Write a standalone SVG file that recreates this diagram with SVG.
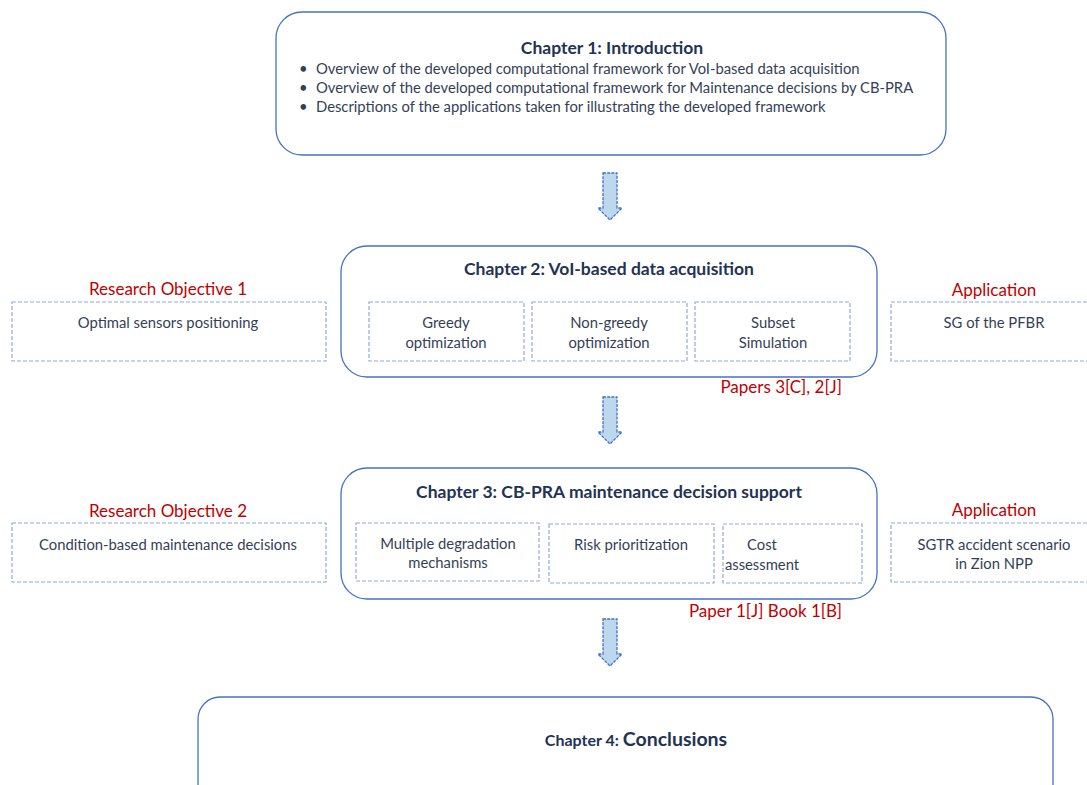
<svg xmlns="http://www.w3.org/2000/svg" width="1087" height="785" viewBox="0 0 1087 785">
<defs>
<style>
.chap{fill:#ffffff;stroke:#4472C4;stroke-width:1.3}
.sub{fill:#ffffff;stroke:#8FAADC;stroke-width:1.2;stroke-dasharray:4 2}
.arrow{fill:#BDD7EE;stroke:#4472C4;stroke-width:1.3;stroke-dasharray:3 1.2}
text{font-family:Lato,"Liberation Sans",sans-serif}
.title{font-size:17.5px;font-weight:bold;fill:#223354;text-anchor:middle}
.body{font-size:14.8px;fill:#333F58}
.c{text-anchor:middle}
.red{font-size:17px;fill:#C00000}
</style>
</defs>
<g id="connectors">
<path class="arrow" d="M603,173 H617 V208 H622 L610,220 L598,208 H603 Z"/>
<path class="arrow" d="M603,397 H617 V432 H622 L610,444 L598,432 H603 Z"/>
<path class="arrow" d="M603,619 H617 V654 H622 L610,666 L598,654 H603 Z"/>
</g>
<g id="chapter1">
<rect class="chap" x="276" y="12" width="670" height="143" rx="26"/>
<text class="title" x="612" y="54">Chapter 1: Introduction</text>
<text class="body" x="299" y="74">•</text>
<text class="body" x="316" y="74">Overview of the developed computational framework for VoI-based data acquisition</text>
<text class="body" x="299" y="93">•</text>
<text class="body" x="316" y="93">Overview of the developed computational framework for Maintenance decisions by CB-PRA</text>
<text class="body" x="299" y="112">•</text>
<text class="body" x="316" y="112">Descriptions of the applications taken for illustrating the developed framework</text>
</g>
<g id="chapter2">
<rect class="chap" x="341" y="246" width="536" height="131" rx="26"/>
<text class="title" x="609" y="275">Chapter 2: VoI-based data acquisition</text>
</g>
<g id="greedy">
<rect class="sub" x="369" y="302" width="155" height="59"/>
<text class="body c" x="446" y="328">Greedy</text>
<text class="body c" x="446" y="348">optimization</text>
</g>
<g id="nongreedy">
<rect class="sub" x="532" y="302" width="155" height="59"/>
<text class="body c" x="609" y="328">Non-greedy</text>
<text class="body c" x="609" y="348">optimization</text>
</g>
<g id="subset">
<rect class="sub" x="695" y="302" width="155" height="59"/>
<text class="body c" x="773" y="328">Subset</text>
<text class="body c" x="773" y="348">Simulation</text>
</g>
<g id="papers2">
<text class="red" x="842" y="393" text-anchor="end">Papers 3[C], 2[J]</text>
</g>
<g id="objective1">
<text class="red" x="168" y="295" text-anchor="middle">Research Objective 1</text>
<rect class="sub" x="12" y="302" width="314" height="59"/>
<text class="body c" x="168" y="328">Optimal sensors positioning</text>
</g>
<g id="application1">
<text class="red" x="994" y="296" text-anchor="middle">Application</text>
<rect class="sub" x="891" y="302" width="205" height="59"/>
<text class="body c" x="994" y="328">SG of the PFBR</text>
</g>
<g id="chapter3">
<rect class="chap" x="341" y="468" width="536" height="131" rx="26"/>
<text class="title" x="609" y="498">Chapter 3: CB-PRA maintenance decision support</text>
</g>
<g id="multiple">
<rect class="sub" x="356" y="523" width="183" height="58"/>
<text class="body c" x="448" y="549">Multiple degradation</text>
<text class="body c" x="448" y="568">mechanisms</text>
</g>
<g id="risk">
<rect class="sub" x="549" y="524" width="165" height="59"/>
<text class="body c" x="631" y="550">Risk prioritization</text>
</g>
<g id="cost">
<rect class="sub" x="723" y="524" width="139" height="59"/>
<text class="body c" x="762" y="550">Cost</text>
<text class="body c" x="762" y="570">assessment</text>
</g>
<g id="papers3">
<text class="red" x="842" y="617" text-anchor="end">Paper 1[J] Book 1[B]</text>
</g>
<g id="objective2">
<text class="red" x="168" y="517" text-anchor="middle">Research Objective 2</text>
<rect class="sub" x="12" y="523" width="314" height="59"/>
<text class="body c" x="168" y="550">Condition-based maintenance decisions</text>
</g>
<g id="application2">
<text class="red" x="994" y="516" text-anchor="middle">Application</text>
<rect class="sub" x="891" y="523" width="205" height="59"/>
<text class="body c" x="994" y="550">SGTR accident scenario</text>
<text class="body c" x="994" y="569">in Zion NPP</text>
</g>
<g id="chapter4">
<rect class="chap" x="198" y="697" width="855" height="110" rx="22"/>
<text class="title" x="636" y="746"><tspan font-size="16px">Chapter 4: </tspan><tspan font-size="19.5px">Conclusions</tspan></text>
</g>
</svg>
